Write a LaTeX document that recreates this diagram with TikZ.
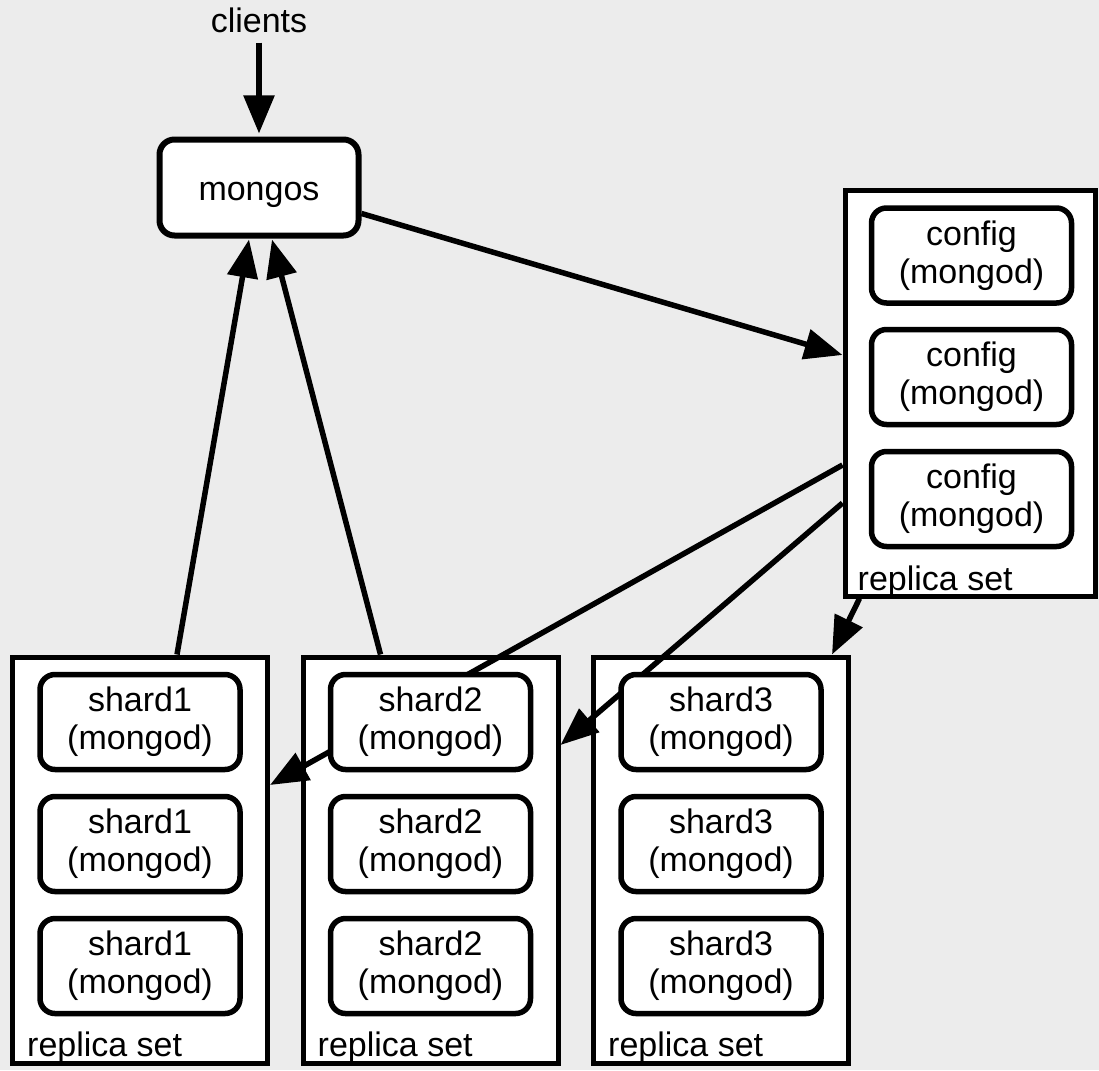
\documentclass[tikz,border=0pt]{standalone}
\usepackage{fontspec}
\setmainfont{Liberation Sans}
\usetikzlibrary{arrows.meta,calc}
\definecolor{paper}{RGB}{236,236,236}

\begin{document}
\begin{tikzpicture}[x=1pt,y=-1pt,
  every node/.style={font=\fontsize{34}{38}\selectfont},
  setbox/.style={draw, fill=white, line width=5pt, inner sep=0pt,
    minimum width=255pt, minimum height=406pt},
  member/.style={draw, fill=white, line width=5.5pt, rounded corners=15pt,
    minimum width=200pt, minimum height=95pt, align=center, inner sep=0pt},
  link/.style={line width=5.5pt, -{Triangle[length=38pt,width=30pt]}},
  setlabel/.style={anchor=base west, inner sep=0pt}
]
% canvas
\fill[paper] (0,0) rectangle (1099,1070);
\useasboundingbox (0,0) rectangle (1099,1070);

% replica set containers
\node[setbox, minimum width=250pt] (cfgset) at (970,393) {};
\node[setbox] (rs1) at (140,860) {};
\node[setbox] (rs2) at (430.5,860) {};
\node[setbox] (rs3) at (721,860) {};

% router and clients
\node[member, line width=6pt, minimum width=199pt, minimum height=96pt,
  text height=26pt, text depth=0pt] (mongos) at (259,187.5) {mongos};
\node[anchor=base, inner sep=0pt] (clients) at (259,33) {clients};

% connectors (drawn above the containers, below the members)
\draw[link] ([yshift=-9pt]clients.south) -- ([yshift=3pt]mongos.north);
\draw[link] ([yshift=-26pt]mongos.east) -- ([yshift=38pt]cfgset.west);
\draw[link] ([xshift=37pt]rs1.north) -- ([xshift=-10pt,yshift=-1pt]mongos.south);
\draw[link] ([xshift=-50pt]rs2.north) -- ([xshift=13pt,yshift=-1pt]mongos.south);
\draw[link] ([yshift=-72pt]cfgset.west) -- ([yshift=75pt]rs1.east);
\draw[link] ([yshift=-110pt]cfgset.west) -- ([yshift=115pt]rs2.east);
\draw[link] ([xshift=17pt]cfgset.south west) -- ([xshift=-19pt]rs3.north east);

% config servers
\node[member] (cfg1) at (971.5,255.5) {config\\(mongod)};
\node[member] (cfg2) at (971.5,377) {config\\(mongod)};
\node[member] (cfg3) at (971.5,499) {config\\(mongod)};
\node[setlabel] (cfglabel) at ([xshift=15pt,yshift=8pt]cfgset.south west) {replica set};

% shard members
\foreach \s/\x in {1/140,2/430.5,3/721}{
  \node[member] (s\s a) at (\x,722) {shard\s\\(mongod)};
  \node[member] (s\s b) at (\x,844) {shard\s\\(mongod)};
  \node[member] (s\s c) at (\x,966) {shard\s\\(mongod)};
  \node[setlabel] (rs\s label) at ([xshift=17pt,yshift=9pt]rs\s.south west) {replica set};
}
\end{tikzpicture}
\end{document}
